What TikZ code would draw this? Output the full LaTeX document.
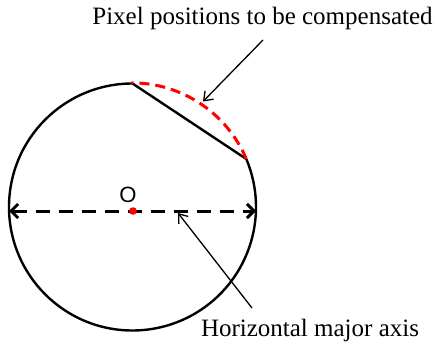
\documentclass[tikz,border=0pt]{standalone}
\usepackage{fontspec}
\setmainfont{Liberation Serif}
\newfontfamily\labelsans{Liberation Sans}
\usetikzlibrary{arrows.meta}
\definecolor{PixRed}{RGB}{255, 0, 0}

\begin{document}
\begin{tikzpicture}[
    x=1pt, y=-1pt,
    every node/.style={inner sep=0pt},
    caption/.style={font=\fontsize{25}{28}\selectfont, anchor=base},
    centremark/.style={font=\labelsans\fontsize{17}{19}\selectfont, scale=1.3},
    rim/.style={draw=black, line width=2.4pt},
    chordline/.style={draw=black, line width=2.4pt},
    lostarc/.style={draw=PixRed, line width=3pt, dash pattern=on 10pt off 6pt},
    majoraxis/.style={draw=black, line width=3pt, dash pattern=on 14pt off 9pt,
      {Straight Barb[length=7pt, width=14pt]}-{Straight Barb[length=7pt, width=14pt]}},
    pointer/.style={-{Straight Barb[length=8pt, width=12pt]}, draw=black, line width=1.3pt}
  ]
    \useasboundingbox (0,0) rectangle (435,344);

    % Circle with cut-off segment
    \coordinate (center) at (132.5,207);
    \coordinate (top) at (132.5,83.5);
    \coordinate (cut) at (246.3,159);
    \draw[rim] (top) arc[start angle=-90, end angle=-382.85, radius=123.5];
    \draw[chordline] (top) -- (cut);
    \draw[lostarc] (cut) arc[start angle=-22.85, end angle=-90, radius=124.5];

    % Horizontal major axis
    \coordinate (west) at (9,211);
    \coordinate (east) at (256,211);
    \draw[majoraxis] (west) -- (east);
    \fill[PixRed] (133,211) circle[radius=3.8];
    \node[centremark] (origin) at (128,194.5) {O};

    % Labels
    \node[caption] (pixtag) at (262.5,25) {Pixel positions to be compensated};
    \node[caption] (axistag) at (310,336) {Horizontal major axis};
    \coordinate (pixfoot) at (263,40);
    \coordinate (pixtip) at (203,101.5);
    \coordinate (axisfoot) at (252,308);
    \coordinate (axistip) at (178,213);
    \draw[pointer] (pixfoot) -- (pixtip);
    \draw[pointer] (axisfoot) -- (axistip);
\end{tikzpicture}
\end{document}
